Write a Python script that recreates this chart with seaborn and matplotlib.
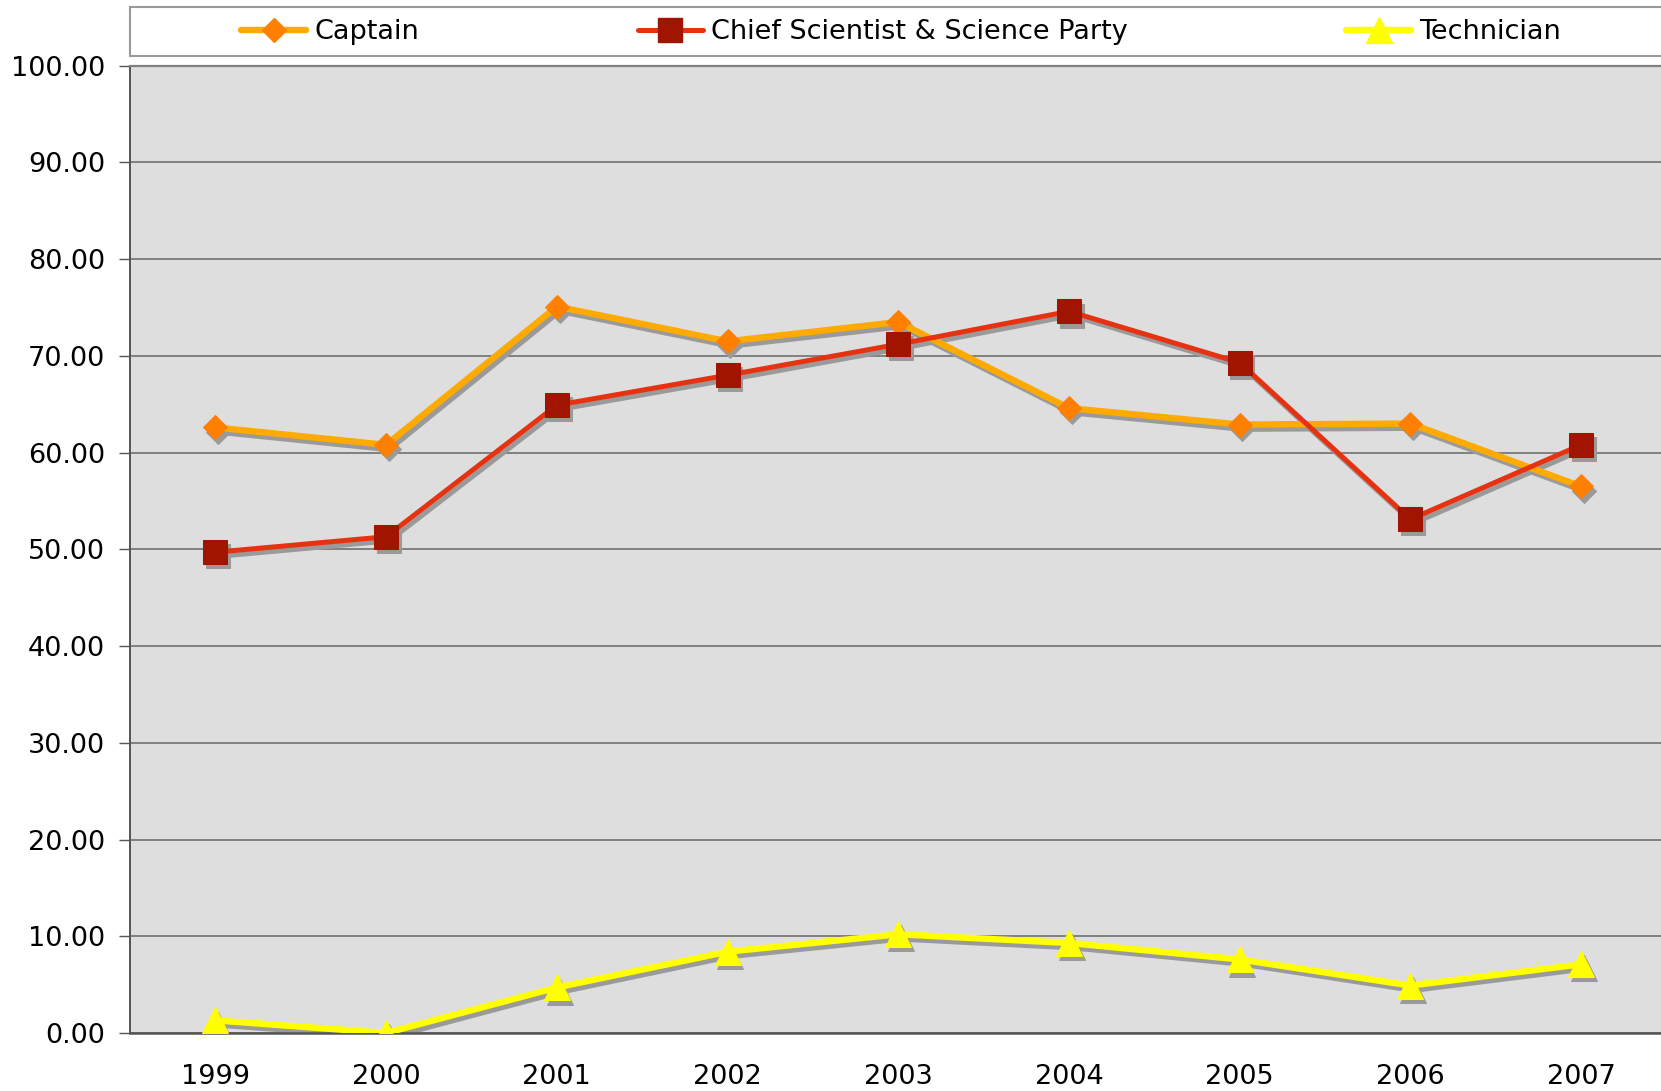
import matplotlib
matplotlib.use("Agg")
import matplotlib.pyplot as plt
import matplotlib.transforms as mtransforms
from matplotlib.lines import Line2D
from matplotlib.patches import Rectangle
from matplotlib.ticker import FixedLocator
import numpy as np
import pandas as pd
import seaborn as sns

years = ["1999", "2000", "2001", "2002", "2003", "2004", "2005", "2006", "2007"]
captain = [62.6, 60.8, 75.1, 71.5, 73.5, 64.6, 62.9, 63.0, 56.5]
chief = [49.7, 51.3, 64.9, 68.0, 71.2, 74.6, 69.3, 53.1, 60.8]
technician = [1.3, 0.0, 4.7, 8.4, 10.2, 9.3, 7.6, 4.9, 7.1]
labels = ["Captain", "Chief Scientist & Science Party", "Technician"]

sns.set_style("white")
plt.rcParams["font.family"] = ["DejaVu Sans"]
plt.rcParams["text.color"] = "black"
plt.rcParams["xtick.color"] = "black"
plt.rcParams["ytick.color"] = "black"

fig = plt.figure(figsize=(16.61, 10.91), dpi=100)
ax = fig.add_axes([0.0783, 0.0532, 0.925, 0.8866])
ax.set_facecolor("#dedede")

x = np.arange(len(years))
# drop shadow: same series drawn in grey, shifted a little down-right
shadow_tr = ax.transData + mtransforms.ScaledTranslation(2 / 72, -3 / 72, fig.dpi_scale_trans)

styles = [
    # line colour, marker, marker colour, line width, marker size
    ("#ffaa00", "D", "#ff7f00", 4.6, 12),
    ("#e63210", "s", "#a01400", 3.6, 17),
    ("#ffff00", "^", "#ffff00", 4.6, 19),
]
series = [captain, chief, technician]

handles = []
for vals, lab, (lc, mk, mc, lw, ms) in zip(series, labels, styles):
    df = pd.DataFrame({"x": x, "y": vals})
    sns.lineplot(data=df, x="x", y="y", ax=ax, color="#9a9a9a", lw=lw, marker=mk,
                 markersize=ms, markerfacecolor="#9a9a9a", markeredgecolor="#9a9a9a",
                 transform=shadow_tr, zorder=2.5)
    sns.lineplot(data=df, x="x", y="y", ax=ax, color=lc, lw=lw, marker=mk,
                 markersize=ms, markerfacecolor=mc, markeredgecolor=mc, zorder=3)
    handles.append(Line2D([], [], color=lc, lw=lw, marker=mk, markersize=ms,
                          markerfacecolor=mc, markeredgecolor=mc))

ax.set_xlim(-0.5, 8.5)
ax.set_ylim(0, 100)
ax.set_yticks(np.arange(0, 101, 10))
ax.set_yticklabels([f"{v:.2f}" for v in range(0, 101, 10)], fontsize=19.5)
ax.set_xticks(x)
ax.set_xticklabels(years, fontsize=19.5)
ax.xaxis.set_minor_locator(FixedLocator(np.arange(-0.5, 9, 1)))
ax.tick_params(axis="x", which="major", length=0, pad=22)
ax.tick_params(axis="x", which="minor", length=10, width=1, color="#555555", direction="out")
ax.tick_params(axis="y", length=8, width=1, color="#555555", direction="out", pad=10, left=True)
ax.set_xlabel("")
ax.set_ylabel("")

ax.grid(axis="y", color="#808080", lw=1.4, zorder=1)
ax.set_axisbelow(True)
ax.spines["right"].set_visible(False)
ax.spines["top"].set_color("#808080")
ax.spines["top"].set_linewidth(1.6)
ax.spines["left"].set_color("#555555")
ax.spines["left"].set_linewidth(1.4)
ax.spines["bottom"].set_color("#555555")
ax.spines["bottom"].set_linewidth(1.8)

# legend box across the top
fig.patches.append(Rectangle((130 / 1661, 1 - 56 / 1091), 1.0, 49 / 1091,
                             transform=fig.transFigure, facecolor="white",
                             edgecolor="#999999", lw=1.5))
fig.legend(handles, labels, loc="center", ncol=3, mode="expand", frameon=False,
           bbox_to_anchor=(241 / 1661, 1 - 52 / 1091, 1320 / 1661, 40 / 1091),
           fontsize=19.5, handlelength=2.4, handletextpad=0.3, borderpad=0.0,
           borderaxespad=0.0)

fig.savefig("out.png", dpi=100)
